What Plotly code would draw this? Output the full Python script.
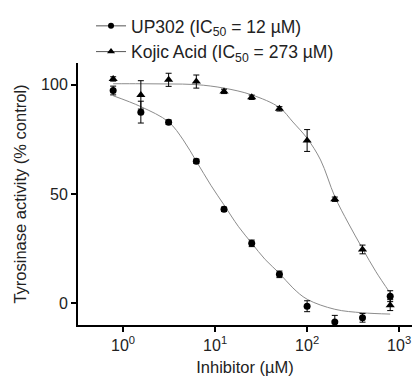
import plotly.graph_objects as go

conc = [0.78, 1.56, 3.125, 6.25, 12.5, 25, 50, 100, 200, 400, 800]

up302_y = [97.4, 87.5, 82.9, 65.0, 43.0, 27.4, 13.2, -1.4, -8.6, -6.7, 3.2]
up302_err = [2.0, 5.0, 1.0, 1.0, 1.0, 1.5, 1.5, 2.5, 3.0, 2.0, 2.5]

kojic_y = [102.7, 95.4, 102.3, 101.5, 97.0, 94.3, 89.0, 74.5, 47.6, 24.6, -0.9]
kojic_err = [1.0, 6.5, 3.0, 3.0, 1.0, 1.0, 1.0, 5.0, 1.0, 2.0, 2.5]

# fitted curves
up302_fit_x = [0.78, 1.56, 3.125, 4.5, 6.25, 9, 12.5, 18, 25, 35, 50, 70, 100, 200, 400, 800]
up302_fit_y = [95.0, 90.0, 83.0, 74.8, 65.0, 54.0, 45.0, 35.0, 27.5, 20.0, 13.7, 7.0, 1.8, -2.8, -4.4, -5.0]

kojic_fit_x = [0.78, 1.56, 3.125, 6.25, 12.5, 25, 50, 70, 100, 140, 200, 280, 400, 560, 800]
kojic_fit_y = [100.5, 100.5, 100.4, 100.1, 98.5, 95.4, 89.6, 83.0, 75.5, 65.6, 48.8, 36.7, 25.0, 14.4, 4.6]

x_tickvals = [1, 10, 100, 1000]
x_ticktext = ["10<sup>0</sup>", "10<sup>1</sup>", "10<sup>2</sup>", "10<sup>3</sup>"]
y_tickvals = [0, 50, 100]

names = ["UP302 (IC<sub>50</sub> = 12 \u00b5M)", "Kojic Acid (IC<sub>50</sub> = 273 \u00b5M)"]

FAM = "Liberation Sans, Arial, sans-serif"
TXT = "#222222"
line_col = "#8c8c8c"
fig = go.Figure()

fig.add_trace(go.Scatter(x=up302_fit_x, y=up302_fit_y, mode="lines", line=dict(color=line_col, width=1, shape="spline"), showlegend=False, hoverinfo="skip"))
fig.add_trace(go.Scatter(x=kojic_fit_x, y=kojic_fit_y, mode="lines", line=dict(color=line_col, width=1, shape="spline"), showlegend=False, hoverinfo="skip"))

fig.add_trace(go.Scatter(x=conc, y=up302_y, mode="markers",
                         marker=dict(symbol="circle", size=7, color="black"),
                         error_y=dict(type="data", array=up302_err, color="black", thickness=1, width=3),
                         showlegend=False))
fig.add_trace(go.Scatter(x=conc, y=kojic_y, mode="markers",
                         marker=dict(symbol="triangle-up", size=8, color="black"),
                         error_y=dict(type="data", array=kojic_err, color="black", thickness=1, width=3),
                         showlegend=False))

# legend entries
fig.add_trace(go.Scatter(x=[None], y=[None], mode="lines+markers", name=names[0],
                         line=dict(color="#555555", width=1), marker=dict(symbol="circle", size=6, color="black")))
fig.add_trace(go.Scatter(x=[None], y=[None], mode="lines+markers", name=names[1],
                         line=dict(color="#555555", width=1), marker=dict(symbol="triangle-up", size=7, color="black")))

fig.update_layout(
    width=414, height=376,
    margin=dict(l=78, r=2, t=63, b=51, autoexpand=False),
    paper_bgcolor="white", plot_bgcolor="white",
    font=dict(family=FAM, size=16, color=TXT),
    legend=dict(x=0.039, y=1.21, xanchor="left", yanchor="top", bgcolor="rgba(0,0,0,0)",
                font=dict(family=FAM, size=17.5, color=TXT), tracegroupgap=0, itemwidth=30),
    showlegend=True,
)
fig.update_xaxes(type="log", range=[-0.49, 3.14], tickvals=x_tickvals, ticktext=x_ticktext,
                 showline=True, linecolor="black", linewidth=2, ticks="outside", ticklen=5,
                 tickwidth=1.5, tickcolor="black", showgrid=False, zeroline=False, automargin=False,
                 tickfont=dict(family=FAM, size=16, color=TXT), ticklabeloverflow="allow",
                 title=dict(text="Inhibitor (\u00b5M)", standoff=8, font=dict(family=FAM, size=16.5, color=TXT)))
fig.update_yaxes(range=[-10, 110], tickvals=y_tickvals, showline=True, linecolor="black", linewidth=2,
                 ticks="outside", ticklen=5, tickwidth=1.5, tickcolor="black", showgrid=False, zeroline=False,
                 automargin=False, tickfont=dict(family=FAM, size=16, color=TXT),
                 title=dict(text="Tyrosinase activity (% control)", standoff=10, font=dict(family=FAM, size=16.5, color=TXT)))

# remove the browser's default page margin so the 414x376 figure fills the window exactly
fig.write_html("out.html", config={"displayModeBar": False},
               post_script="document.body.style.margin='0px';document.body.style.overflow='hidden';")
